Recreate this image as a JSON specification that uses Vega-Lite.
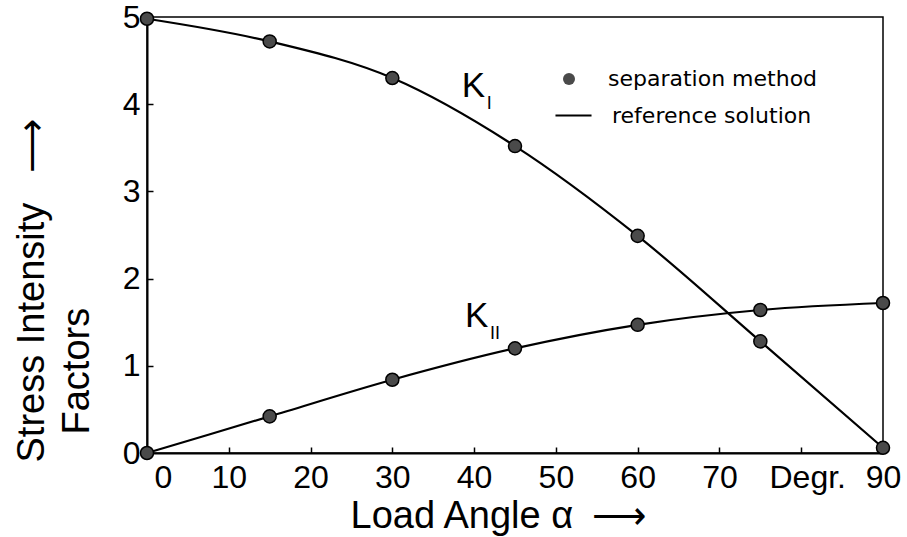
{
  "$schema": "https://vega.github.io/schema/vega-lite/v6.json",
  "width": 736,
  "height": 436,
  "autosize": "none",
  "padding": {"left": 147, "top": 17, "right": 24, "bottom": 84},
  "background": "white",
  "config": {
    "view": {"stroke": "black", "strokeWidth": 1.5},
    "font": "Liberation Sans"
  },
  "datasets": {
    "pts": [
      {"alpha": 0, "series": "KI", "K": 4.98},
      {"alpha": 15, "series": "KI", "K": 4.72},
      {"alpha": 30, "series": "KI", "K": 4.30},
      {"alpha": 45, "series": "KI", "K": 3.52},
      {"alpha": 60, "series": "KI", "K": 2.49},
      {"alpha": 75, "series": "KI", "K": 1.28},
      {"alpha": 90, "series": "KI", "K": 0.06},
      {"alpha": 0, "series": "KII", "K": 0.0},
      {"alpha": 15, "series": "KII", "K": 0.42},
      {"alpha": 30, "series": "KII", "K": 0.84},
      {"alpha": 45, "series": "KII", "K": 1.20},
      {"alpha": 60, "series": "KII", "K": 1.47},
      {"alpha": 75, "series": "KII", "K": 1.64},
      {"alpha": 90, "series": "KII", "K": 1.72}
    ],
    "labels": [
      {"a": 38.5, "K": 4.08, "main": "K", "sub": "I"},
      {"a": 38.9, "K": 1.445, "main": "K", "sub": "II"}
    ]
  },
  "encoding": {
    "x": {
      "field": "alpha",
      "type": "quantitative",
      "scale": {"domain": [0, 90], "nice": false, "zero": false},
      "axis": {
        "values": [0, 10, 20, 30, 40, 50, 60, 70, 80, 90],
        "title": "Load Angle α\u2002⟶",
        "grid": false,
        "domainColor": "black",
        "domainWidth": 2,
        "tickColor": "black",
        "tickWidth": 1.5,
        "tickSize": -6,
        "labelFont": "Liberation Sans",
        "labelFontSize": 32,
        "labelColor": "black",
        "labelPadding": 15,
        "labelFlush": false,
        "labelOverlap": false,
        "labelBound": false,
        "labelOffset": {"condition": [{"test": "datum.value == 0", "value": 16}, {"test": "datum.value == 80", "value": 6}], "value": 0},
        "labelExpr": "datum.value == 80 ? 'Degr.' : datum.label",
        "titleFont": "Liberation Sans",
        "titleFontSize": 38,
        "titleFontWeight": "normal",
        "titleColor": "black",
        "titleX": 203,
        "titleY": 74,
        "titleAlign": "left",
        "titleBaseline": "alphabetic"
      }
    },
    "y": {
      "field": "K",
      "type": "quantitative",
      "scale": {"domain": [0, 5], "nice": false},
      "axis": {
        "values": [0, 1, 2, 3, 4, 5],
        "title": ["Stress Intensity\u2002 ⟶", "\u2800Factors"],
        "grid": false,
        "domainColor": "black",
        "domainWidth": 2,
        "tickColor": "black",
        "tickWidth": 1.5,
        "tickSize": -6,
        "labelFont": "Liberation Sans",
        "labelFontSize": 32,
        "labelColor": "black",
        "labelPadding": 13,
        "labelFlush": false,
        "labelOverlap": false,
        "labelBound": false,
        "titleFont": "Liberation Sans",
        "titleFontSize": 38,
        "titleFontWeight": "normal",
        "titleColor": "black",
        "titleAngle": -90,
        "titleX": -104,
        "titleY": 445,
        "titleAlign": "left",
        "titleBaseline": "alphabetic",
        "titleLineHeight": 45
      }
    }
  },
  "layer": [
    {
      "data": {"name": "pts"},
      "mark": {"type": "line", "interpolate": "monotone", "strokeWidth": 2.2},
      "encoding": {
        "detail": {"field": "series"},
        "color": {
          "datum": "reference solution",
          "scale": {"domain": ["reference solution"], "range": ["black"]},
          "legend": {
            "orient": "none",
            "legendX": 407,
            "legendY": 79,
            "title": null,
            "padding": 0,
            "labelFont": "DejaVu Sans",
            "labelFontSize": 22,
            "labelColor": "black",
            "labelLimit": 400,
            "labelOffset": 19,
            "symbolType": "stroke",
            "symbolSize": 1300,
            "symbolStrokeWidth": 2.2,
            "symbolStrokeColor": "black",
            "symbolOpacity": 1
          }
        }
      }
    },
    {
      "data": {"name": "pts"},
      "mark": {"type": "point", "filled": true, "fill": "#4a4a4a", "stroke": "black", "strokeWidth": 1.5, "size": 170, "opacity": 1},
      "encoding": {
        "shape": {
          "datum": "separation method",
          "scale": {"domain": ["separation method"], "range": ["circle"]},
          "legend": {
            "orient": "none",
            "legendX": 411,
            "legendY": 51,
            "title": null,
            "padding": 0,
            "labelFont": "DejaVu Sans",
            "labelFontSize": 22,
            "labelColor": "black",
            "labelLimit": 400,
            "labelOffset": 28,
            "symbolStrokeColor": "black",
            "symbolFillColor": "#4a4a4a",
            "symbolStrokeWidth": 1.5,
            "symbolOpacity": 1,
            "symbolSize": 144
          }
        }
      }
    },
    {
      "data": {"name": "labels"},
      "mark": {"type": "text", "align": "left", "baseline": "alphabetic", "fontSize": 35, "font": "Liberation Sans", "color": "black"},
      "encoding": {
        "x": {"field": "a", "type": "quantitative"},
        "y": {"field": "K", "type": "quantitative"},
        "text": {"field": "main"}
      }
    },
    {
      "data": {"name": "labels"},
      "mark": {"type": "text", "align": "left", "baseline": "alphabetic", "fontSize": 18, "font": "Liberation Sans", "color": "black", "dx": 25, "dy": 12},
      "encoding": {
        "x": {"field": "a", "type": "quantitative"},
        "y": {"field": "K", "type": "quantitative"},
        "text": {"field": "sub"}
      }
    }
  ]
}
